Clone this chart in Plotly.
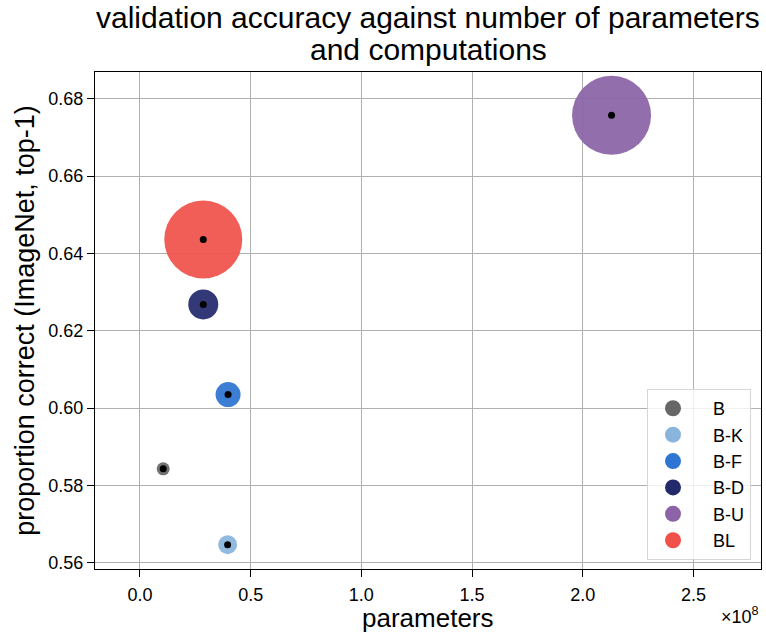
import plotly.graph_objects as go

names = ["B", "B-K", "B-F", "B-D", "B-U", "BL"]
params = [0.105e8, 0.396e8, 0.398e8, 0.286e8, 2.13e8, 0.286e8]
accuracy = [0.5843, 0.5647, 0.6035, 0.6268, 0.6757, 0.6436]
bubble = [13, 19, 25, 30, 79, 78]
colors = ["#676767", "#89b5dd", "#2e74d2", "#222a6c", "#8b63a6", "#f0524a"]
title_lines = ["validation accuracy against number of parameters", "and computations"]
x_label = "parameters"
y_label = "proportion correct (ImageNet, top-1)"

FONT = "Liberation Sans, Arial, sans-serif"
fig = go.Figure()

for n, x, y, s, c in zip(names, params, accuracy, bubble, colors):
    fig.add_trace(go.Scatter(x=[x], y=[y], mode="markers", showlegend=False,
                             marker=dict(size=s, color=c, opacity=0.93, line=dict(width=0)),
                             hoverinfo="skip"))

fig.add_trace(go.Scatter(x=params, y=accuracy, mode="markers", showlegend=False,
                         marker=dict(size=7, color="black", line=dict(width=0))))

for i, (n, c) in enumerate(zip(names, colors)):
    fig.add_trace(go.Scatter(x=[None], y=[None], mode="markers", name="   " + n,
                             legendgroup="g%d" % i,
                             marker=dict(size=20, color=c, line=dict(width=0))))

fig.update_layout(
    width=766, height=632,
    margin=dict(l=95, r=5, t=72, b=63),
    paper_bgcolor="white", plot_bgcolor="white",
    font=dict(family=FONT, size=18, color="black"),
    legend=dict(x=0.985, xanchor="right", y=0.018, yanchor="bottom",
                bgcolor="rgba(255,255,255,0.8)", bordercolor="#d6d6d6", borderwidth=1,
                tracegroupgap=0, font=dict(size=18), itemwidth=40),
    xaxis=dict(range=[-0.203e8, 2.805e8], tickvals=[0, 0.5e8, 1e8, 1.5e8, 2e8, 2.5e8],
               ticktext=["0.0", "0.5", "1.0", "1.5", "2.0", "2.5"],
               showgrid=True, gridcolor="#b0b0b0", gridwidth=1, zeroline=False,
               showline=True, linecolor="black", linewidth=1.2, mirror=True,
               ticks="outside", ticklen=7, tickcolor="black", ticklabelstandoff=2),
    yaxis=dict(range=[0.5584, 0.6869], tickvals=[0.56, 0.58, 0.60, 0.62, 0.64, 0.66, 0.68],
               tickformat=".2f",
               showgrid=True, gridcolor="#b0b0b0", gridwidth=1, zeroline=False,
               showline=True, linecolor="black", linewidth=1.2, mirror=True,
               ticks="outside", ticklen=7, tickcolor="black",
               title=dict(text=y_label, font=dict(size=27), standoff=5)),
    annotations=[
        dict(text=title_lines[0], xref="paper", yref="paper", x=0.5, y=1.1087,
             xanchor="center", yanchor="middle", showarrow=False, font=dict(size=30)),
        dict(text=title_lines[1], xref="paper", yref="paper", x=0.5, y=1.0443,
             xanchor="center", yanchor="middle", showarrow=False, font=dict(size=30)),
        dict(text=x_label, xref="paper", yref="paper", x=0.5, y=-0.0985,
             xanchor="center", yanchor="middle", showarrow=False, font=dict(size=26)),
        dict(text="×10<sup>8</sup>", xref="paper", yref="paper", x=1.0, y=-0.1207,
             xanchor="right", yanchor="bottom", showarrow=False, font=dict(size=18)),
    ],
)

fig.write_html("out.html")
